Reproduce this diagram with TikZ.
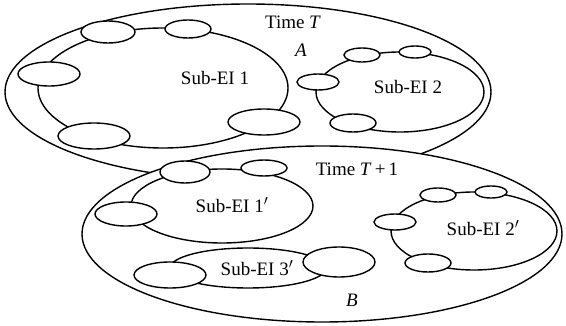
\documentclass[tikz,border=0pt]{standalone}
\usepackage{fontspec}
\setmainfont{Liberation Serif}
\usetikzlibrary{shapes.geometric}
\begin{document}
\begin{tikzpicture}[x=1pt,y=-1pt,line width=1.4pt,
  ell/.style={draw,fill=white,ellipse,inner sep=0pt},
  lbl/.style={font=\fontsize{19}{22}\selectfont,inner sep=0pt}]
\useasboundingbox (0,0) rectangle (566,326);
% ---- Time T region A
\node[ell,minimum width=486pt,minimum height=176pt] (A) at (248,92) {};
\node[ell,fill=none,minimum width=250pt,minimum height=120pt] (s1) at (163,88) {};
\node[ell,fill=none,minimum width=168pt,minimum height=80pt] (s2) at (400,92) {};
\node[ell,minimum width=54pt,minimum height=22pt] (e1) at (108,32) {};
\node[ell,minimum width=46pt,minimum height=18pt] (e2) at (188,29) {};
\node[ell,minimum width=62pt,minimum height=24pt] (e3) at (49,74) {};
\node[ell,minimum width=72pt,minimum height=26pt] (e4) at (94,136) {};
\node[ell,minimum width=72pt,minimum height=26pt] (e5) at (264,122) {};
\node[ell,minimum width=36pt,minimum height=14pt] (f1) at (362,55) {};
\node[ell,minimum width=32pt,minimum height=12pt] (f2) at (415,52) {};
\node[ell,minimum width=42pt,minimum height=16pt] (f3) at (318,82) {};
\node[ell,minimum width=46pt,minimum height=18pt] (f4) at (353,123) {};
\node[lbl] (tT) at (293,22) {Time \textit{T}};
\node[lbl] (lA) at (301,50) {\textit{A}};
\node[lbl] (l1) at (215,78) {Sub-EI 1};
\node[lbl] (l2) at (408,87) {Sub-EI 2};
% ---- Time T+1 region B
\node[ell,minimum width=480pt,minimum height=176pt] (B) at (322,234) {};
\node[ell,fill=none,minimum width=182pt,minimum height=74pt] (s1p) at (222,206) {};
\node[ell,fill=none,minimum width=156pt,minimum height=40pt] (s3p) at (248,268) {};
\node[ell,fill=none,minimum width=166pt,minimum height=78pt] (s2p) at (474,231) {};
\node[ell,minimum width=50pt,minimum height=22pt] (g1) at (185,172) {};
\node[ell,minimum width=46pt,minimum height=16pt] (g2) at (264,168) {};
\node[ell,minimum width=62pt,minimum height=24pt] (g3) at (126,214) {};
\node[ell,minimum width=72pt,minimum height=26pt] (h1) at (170,275) {};
\node[ell,minimum width=72pt,minimum height=30pt] (h2) at (339,262) {};
\node[ell,minimum width=36pt,minimum height=14pt] (k1) at (438,195) {};
\node[ell,minimum width=32pt,minimum height=12pt] (k2) at (491,192) {};
\node[ell,minimum width=42pt,minimum height=16pt] (k3) at (395,222) {};
\node[ell,minimum width=46pt,minimum height=18pt] (k4) at (428,263) {};
\node[lbl] (tT1) at (357,169) {Time \textit{T}\,+\,1};
\node[lbl] (lB) at (352,300) {\textit{B}};
\node[lbl] (l1p) at (232,205) {Sub-EI 1$'$};
\node[lbl] (l3p) at (257,268) {Sub-EI 3$'$};
\node[lbl] (l2p) at (483,228) {Sub-EI 2$'$};
\end{tikzpicture}
\end{document}
